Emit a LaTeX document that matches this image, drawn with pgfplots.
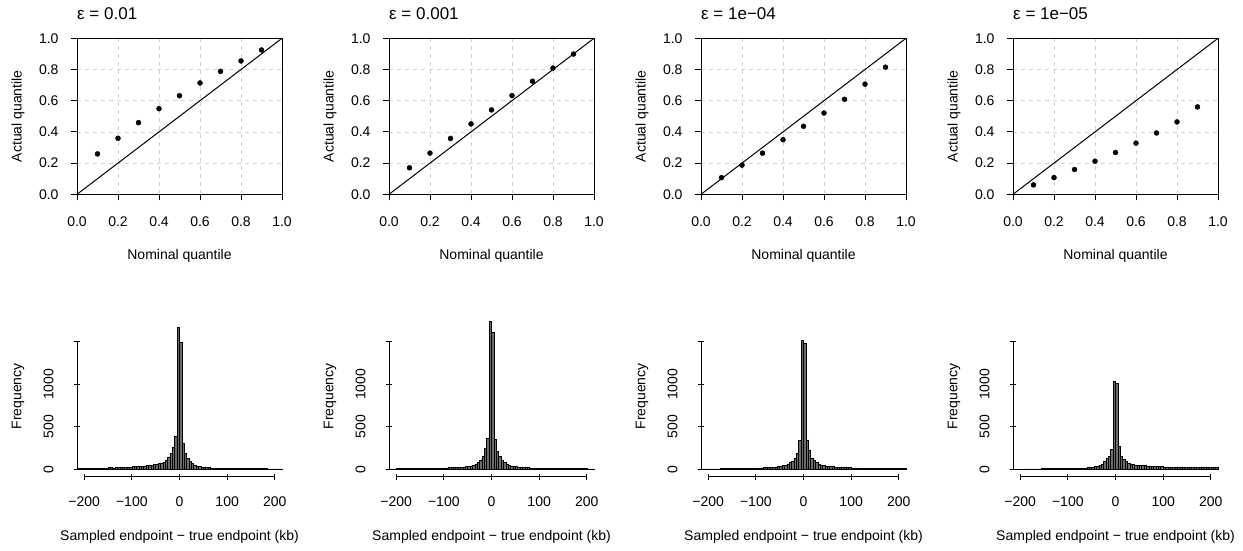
\documentclass[border=0pt]{standalone}
\usepackage{fontspec}
\setmainfont{Liberation Sans}
\usepackage{pgfplots}
\usepackage{pgfplotstable}
\pgfplotsset{compat=1.18}

\pgfplotstableread{
x h1 h2 h3 h4
-215 8 5 4 3
-210 8 5 4 3
-205 9 5 4 3
-200 9 6 4 3
-195 10 6 5 4
-190 10 6 5 4
-185 11 6 5 4
-180 12 7 5 4
-175 12 7 6 5
-170 13 7 6 5
-165 14 8 6 5
-160 15 8 7 5
-155 16 9 8 6
-150 22 12 9 6
-145 18 10 9 6
-140 17 10 10 7
-135 18 11 10 7
-130 20 11 11 7
-125 21 12 11 8
-120 22 12 12 8
-115 24 13 12 8
-110 25 14 13 9
-105 27 15 14 9
-100 30 16 15 10
-95 32 17 16 10
-90 34 18 17 11
-85 36 19 18 12
-80 38 20 19 13
-75 40 22 21 14
-70 42 24 23 15
-65 46 26 25 17
-60 50 28 28 19
-55 55 31 32 22
-50 60 35 36 25
-45 68 40 42 30
-40 76 48 50 35
-35 88 63 63 45
-30 110 78 78 63
-25 145 110 90 90
-20 185 149 129 129
-15 260 247 188 149
-10 390 362 337 235
-5 1669 1736 1512 1030
0 1490 1606 1481 1011
5 300 350 345 266
10 190 208 227 149
15 130 149 129 118
20 92 110 110 90
25 70 78 78 70
30 52 63 63 63
35 40 48 52 55
40 32 40 45 50
45 27 34 40 48
50 22 30 36 46
55 20 27 33 45
60 18 25 30 42
65 16 22 28 40
70 15 20 26 38
75 14 18 24 36
80 13 16 22 35
85 12 15 20 33
90 11 14 19 32
95 10 13 18 30
100 10 12 17 29
105 9 11 16 28
110 9 11 16 27
115 9 10 15 27
120 8 10 15 26
125 8 9 14 25
130 8 9 14 25
135 8 9 13 24
140 7 8 13 24
145 7 8 12 23
150 7 8 12 23
155 7 7 12 22
160 6 7 11 22
165 6 7 11 22
170 6 7 11 21
175 6 6 10 21
180 6 6 10 20
185 5 6 10 20
190 5 6 10 20
195 5 6 9 19
200 5 5 12 19
205 5 5 9 18
210 5 5 9 18
215 0 0 0 0
}\histdata

\pgfplotsset{
  common/.style={
    scale only axis, width=205pt,
    tick align=outside, major tick length=6pt,
    every tick/.style={black, line width=0.9pt},
    tick label style={font=\fontsize{14}{16}\selectfont, text=black},
    label style={font=\fontsize{14}{16}\selectfont, text=black},
    xticklabel style={yshift=-13pt},
    ylabel style={at={(axis description cs:0,0.5)}, anchor=center, yshift=59pt},
  },
  toppanel/.style={
    common, height=156pt,
    xmin=0, xmax=1, ymin=0, ymax=1,
    xtick={0,0.2,0.4,0.6,0.8,1}, ytick={0,0.2,0.4,0.6,0.8,1},
    xticklabels={0.0,0.2,0.4,0.6,0.8,1.0},
    yticklabels={0.0,0.2,0.4,0.6,0.8,1.0},
    yticklabel style={xshift=-9pt},
    xtick pos=bottom, ytick pos=left,
    grid=major,
    grid style={gray!35, dash pattern=on 4pt off 4pt, line width=0.8pt},
    axis line style={line width=0.9pt},
    xlabel={Nominal quantile}, ylabel={Actual quantile},
    xlabel style={at={(axis description cs:0.5,0)}, anchor=center, yshift=-62pt},
    title style={at={(axis description cs:0,1)}, anchor=base west, inner sep=0pt,
      yshift=12.5pt, font=\fontsize{17}{19}\selectfont},
  },
  histpanel/.style={
    common, height=160.5pt,
    xmin=-215, xmax=215, ymin=-87, ymax=1800,
    axis lines=left, axis line style={draw=none, -},
    xtick={-200,-100,0,100,200},
    xticklabels={−200,−100,0,100,200},
    ytick={0,500,1000,1500}, yticklabels={0,500,1000,{}},
    yticklabel style={rotate=90, anchor=south, yshift=17pt},
    xlabel={Sampled endpoint − true endpoint (kb)}, ylabel={Frequency},
    xlabel style={at={(axis description cs:0.5,0)}, anchor=center, yshift=-60pt},
    clip=false,
  },
  diag/.style={black, line width=1pt},
  pts/.style={only marks, mark=*, mark size=2.5pt, black},
  bars/.style={ybar interval, fill=gray!85!black, draw=black, line width=0.6pt},
}

\begin{document}
\begin{tikzpicture}
\path[use as bounding box] (0,0) rectangle (1243pt,550pt);

% ---------- top row ----------
\begin{axis}[toppanel, at={(77pt,355.7pt)}, anchor=south west, title={ε = 0.01}]
\addplot[diag] coordinates {(0,0) (1,1)};
\addplot[pts] coordinates {(0.1,0.259) (0.2,0.359) (0.3,0.459) (0.4,0.549) (0.5,0.632) (0.6,0.714) (0.7,0.788) (0.8,0.855) (0.9,0.925)};
\end{axis}

\begin{axis}[toppanel, at={(389pt,355.7pt)}, anchor=south west, title={ε = 0.001}]
\addplot[diag] coordinates {(0,0) (1,1)};
\addplot[pts] coordinates {(0.1,0.170) (0.2,0.264) (0.3,0.358) (0.4,0.451) (0.5,0.541) (0.6,0.633) (0.7,0.725) (0.8,0.809) (0.9,0.899)};
\end{axis}

\begin{axis}[toppanel, at={(701pt,355.7pt)}, anchor=south west, title={ε = 1e−04}]
\addplot[diag] coordinates {(0,0) (1,1)};
\addplot[pts] coordinates {(0.1,0.107) (0.2,0.187) (0.3,0.264) (0.4,0.350) (0.5,0.436) (0.6,0.521) (0.7,0.609) (0.8,0.706) (0.9,0.815)};
\end{axis}

\begin{axis}[toppanel, at={(1013pt,355.7pt)}, anchor=south west, title={ε = 1e−05}]
\addplot[diag] coordinates {(0,0) (1,1)};
\addplot[pts] coordinates {(0.1,0.060) (0.2,0.107) (0.3,0.159) (0.4,0.212) (0.5,0.268) (0.6,0.328) (0.7,0.393) (0.8,0.464) (0.9,0.560)};
\end{axis}

% ---------- bottom row ----------
\begin{axis}[histpanel, at={(77pt,73.3pt)}, anchor=south west]
\addplot[bars] table[x=x, y=h1] {\histdata};
\draw[line width=0.9pt] (axis cs:-200,-87) -- (axis cs:200,-87);
\draw[line width=0.9pt] (axis cs:-215,0) -- (axis cs:-215,1500);
\end{axis}

\begin{axis}[histpanel, at={(389pt,73.3pt)}, anchor=south west]
\addplot[bars] table[x=x, y=h2] {\histdata};
\draw[line width=0.9pt] (axis cs:-200,-87) -- (axis cs:200,-87);
\draw[line width=0.9pt] (axis cs:-215,0) -- (axis cs:-215,1500);
\end{axis}

\begin{axis}[histpanel, at={(701pt,73.3pt)}, anchor=south west]
\addplot[bars] table[x=x, y=h3] {\histdata};
\draw[line width=0.9pt] (axis cs:-200,-87) -- (axis cs:200,-87);
\draw[line width=0.9pt] (axis cs:-215,0) -- (axis cs:-215,1500);
\end{axis}

\begin{axis}[histpanel, at={(1013pt,73.3pt)}, anchor=south west]
\addplot[bars] table[x=x, y=h4] {\histdata};
\draw[line width=0.9pt] (axis cs:-200,-87) -- (axis cs:200,-87);
\draw[line width=0.9pt] (axis cs:-215,0) -- (axis cs:-215,1500);
\end{axis}
\end{tikzpicture}
\end{document}
